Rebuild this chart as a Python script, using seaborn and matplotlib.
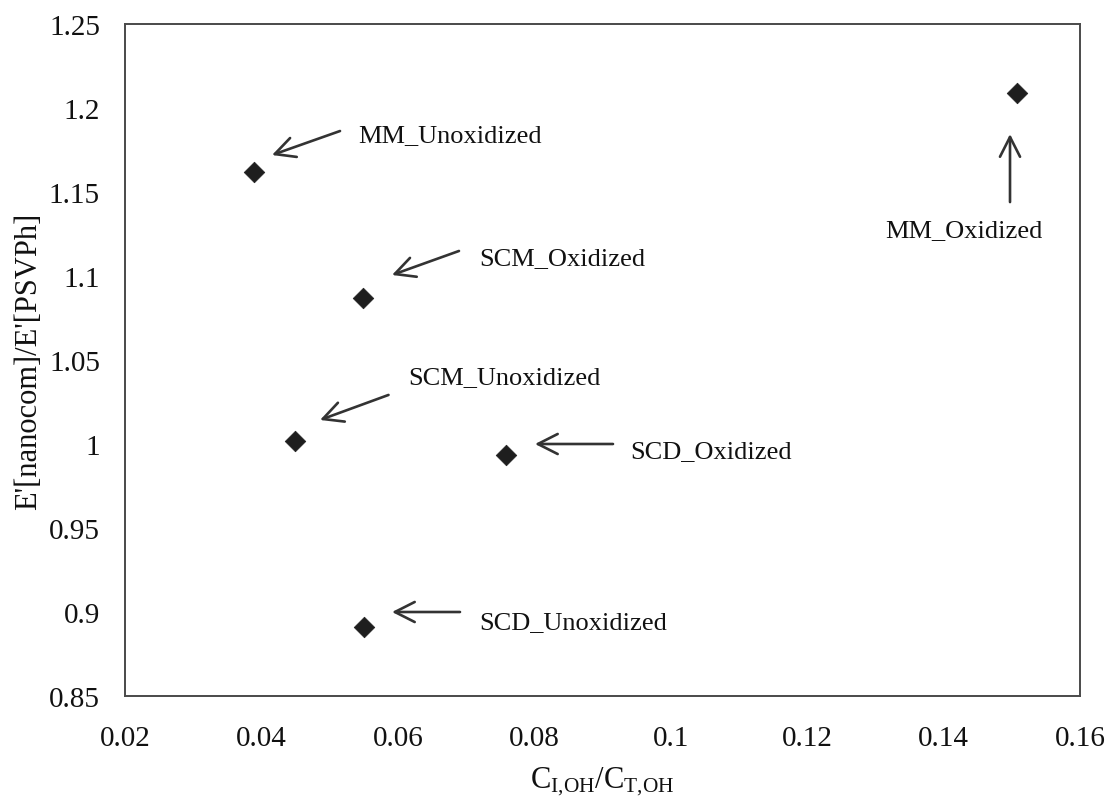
import matplotlib
matplotlib.use("Agg")
import matplotlib.pyplot as plt
import seaborn as sns
import pandas as pd

# ---- data ----
samples = ["MM_Unoxidized", "SCM_Oxidized", "SCM_Unoxidized",
           "SCD_Oxidized", "SCD_Unoxidized", "MM_Oxidized"]
ratio_x = [0.0389, 0.0549, 0.0449, 0.0759, 0.0550, 0.1508]
modulus_ratio = [1.162, 1.087, 1.002, 0.9935, 0.891, 1.209]

x_ticks = [0.02, 0.04, 0.06, 0.08, 0.1, 0.12, 0.14, 0.16]
x_tick_labels = ["0.02", "0.04", "0.06", "0.08", "0.1", "0.12", "0.14", "0.16"]
y_ticks = [0.85, 0.9, 0.95, 1.0, 1.05, 1.1, 1.15, 1.2, 1.25]
y_tick_labels = ["0.85", "0.9", "0.95", "1", "1.05", "1.1", "1.15", "1.2", "1.25"]

x_label = r"C$_{\mathrm{I{,}OH}}$/C$_{\mathrm{T{,}OH}}$"
y_label = "E'[nanocom]/E'[PSVPh]"

# annotation layout (label anchor, arrow head, arrow tail) in data coordinates
label_pos = {
    "MM_Unoxidized": (0.0542, 1.1804, "left"),
    "SCM_Oxidized": (0.0719, 1.1071, "left"),
    "SCM_Unoxidized": (0.0615, 1.0363, "left"),
    "SCD_Oxidized": (0.0940, 0.9922, "left"),
    "SCD_Unoxidized": (0.0720, 0.8905, "left"),
    "MM_Oxidized": (0.1430, 1.1238, "center"),
}
arrow_head = {
    "MM_Unoxidized": (0.04155, 1.1720),
    "SCM_Oxidized": (0.05914, 1.1006),
    "SCM_Unoxidized": (0.04859, 1.0143),
    "SCD_Oxidized": (0.0801, 1.0000),
    "SCD_Unoxidized": (0.05914, 0.9000),
    "MM_Oxidized": (0.14974, 1.1845),
}
arrow_tail = {
    "MM_Unoxidized": (0.05152, 1.1863),
    "SCM_Oxidized": (0.06896, 1.1149),
    "SCM_Unoxidized": (0.05863, 1.0292),
    "SCD_Oxidized": (0.09154, 1.0000),
    "SCD_Unoxidized": (0.06911, 0.9000),
    "MM_Oxidized": (0.14974, 1.1440),
}

df = pd.DataFrame({"sample": samples, "x": ratio_x, "y": modulus_ratio})

sns.set_theme(style="white")
plt.rcParams["font.family"] = ["Liberation Serif", "DejaVu Serif"]
plt.rcParams["mathtext.fontset"] = "custom"
plt.rcParams["mathtext.rm"] = "Liberation Serif"
plt.rcParams["mathtext.it"] = "Liberation Serif:italic"
plt.rcParams["mathtext.bf"] = "Liberation Serif:bold"

fig = plt.figure(figsize=(11.13, 8.03), dpi=100)
ax = fig.add_axes([125 / 1113, 1 - 697 / 803, 955 / 1113, 672 / 803])

sns.scatterplot(data=df, x="x", y="y", marker="D", s=110, color="#1e1e1e",
                edgecolor="#1e1e1e", linewidth=0.5, ax=ax, legend=False, zorder=3)

ax.set_xlim(0.02, 0.16)
ax.set_ylim(0.85, 1.25)
ax.set_xticks(x_ticks)
ax.set_xticklabels(x_tick_labels)
ax.set_yticks(y_ticks)
ax.set_yticklabels(y_tick_labels)

ax.tick_params(axis="both", direction="in", length=6, width=0.8, colors="#444444",
               labelcolor="#111111", labelsize=21)
ax.tick_params(axis="x", pad=21)
ax.tick_params(axis="y", pad=18)

for sp in ax.spines.values():
    sp.set_visible(True)
    sp.set_color("#4a4a4a")
    sp.set_linewidth(1.4)

ax.set_xlabel(x_label, fontsize=22, color="#111111", labelpad=10)
ax.set_ylabel(y_label, fontsize=22, color="#111111", labelpad=4)

for name in samples:
    hx, hy = arrow_head[name]
    tx, ty = arrow_tail[name]
    ax.annotate("", xy=(hx, hy), xytext=(tx, ty),
                arrowprops=dict(arrowstyle="->,head_length=0.75,head_width=0.38",
                                color="#333333", lw=1.9, mutation_scale=19,
                                shrinkA=0, shrinkB=0))
    lx, ly, ha = label_pos[name]
    ax.text(lx, ly, name, fontsize=19, color="#111111", ha=ha, va="baseline")

fig.savefig("out.png", dpi=100, facecolor="white")
